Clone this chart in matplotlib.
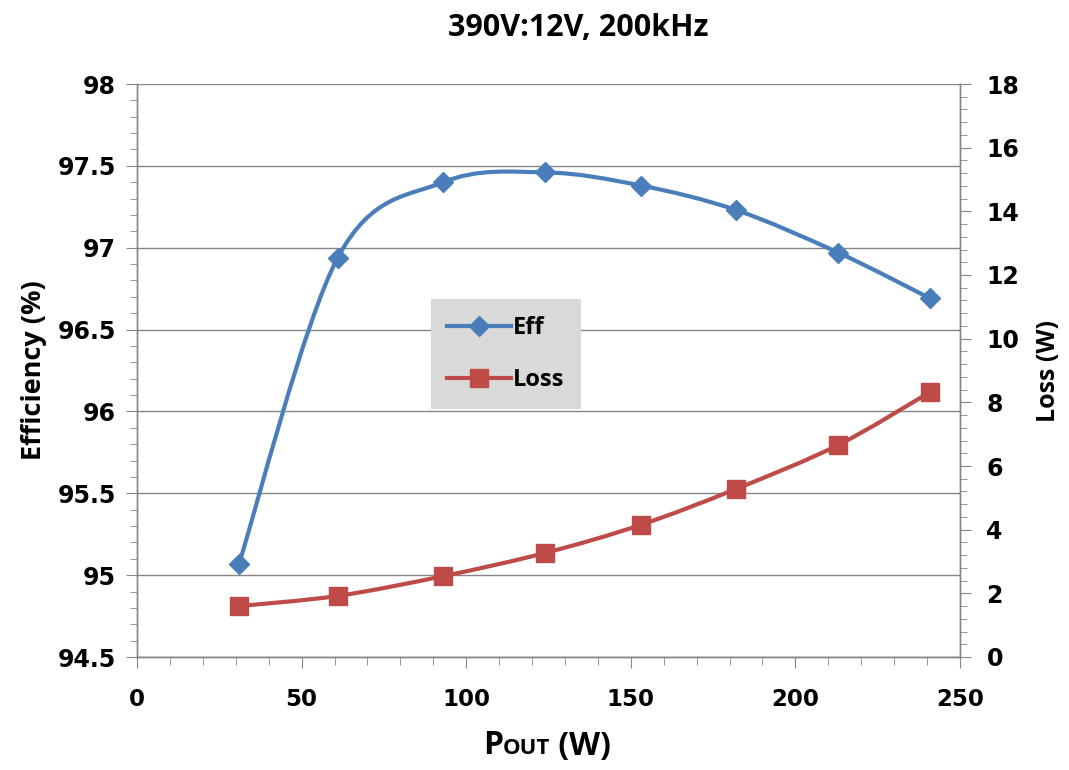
import numpy as np
import matplotlib
matplotlib.use("Agg")
import matplotlib.pyplot as plt
from matplotlib.path import Path
from matplotlib.patches import PathPatch
from matplotlib.lines import Line2D
from matplotlib.ticker import MultipleLocator
from matplotlib.offsetbox import TextArea, HPacker, AnchoredOffsetbox

# ---- data ----
pout = [31, 61, 93, 124, 153, 182, 213, 241]
eff = [95.07, 96.94, 97.40, 97.46, 97.38, 97.23, 96.97, 96.69]
loss = [1.60, 1.92, 2.54, 3.27, 4.15, 5.28, 6.66, 8.33]
title = "390V:12V, 200kHz"
series_names = ["Eff", "Loss"]

BLUE = "#4A7EBB"
RED = "#BE4B48"
GRAY = "#868686"

fig = plt.figure(figsize=(10.69, 7.70), dpi=100)
ax = fig.add_axes([137/1069, 1-657/770, 823/1069, 573/770])
ax2 = ax.twinx()

ax.set_xlim(0, 250)
ax.set_ylim(94.5, 98)
ax2.set_ylim(0, 18)


def smooth_path(xs, ys, xr, yr):
    # Excel-like smoothed line: cubic Bezier through the data points,
    # control points computed in a screen-proportional space.
    sx = 823.0 / (xr[1] - xr[0])
    sy = 573.0 / (yr[1] - yr[0])
    P = np.column_stack([(np.asarray(xs) - xr[0]) * sx, (np.asarray(ys) - yr[0]) * sy])
    n = len(P)
    verts = [P[0]]
    codes = [Path.MOVETO]
    for i in range(n - 1):
        p0 = P[i - 1] if i > 0 else P[i]
        p1 = P[i]
        p2 = P[i + 1]
        p3 = P[i + 2] if i + 2 < n else P[i + 1]
        c1 = p1 + (p2 - p0) / 6.0
        c2 = p2 - (p3 - p1) / 6.0
        verts += [c1, c2, p2]
        codes += [Path.CURVE4] * 3
    V = np.array(verts)
    V[:, 0] = V[:, 0] / sx + xr[0]
    V[:, 1] = V[:, 1] / sy + yr[0]
    return Path(V, codes)


eff_path = smooth_path(pout, eff, (0, 250), (94.5, 98))
ax.add_patch(PathPatch(eff_path, facecolor="none", edgecolor=BLUE, lw=3, zorder=3))
ax.plot(pout, eff, linestyle="none", marker="D", markersize=10, color=BLUE, zorder=4)

loss_path = smooth_path(pout, loss, (0, 250), (0, 18))
ax2.add_patch(PathPatch(loss_path, facecolor="none", edgecolor=RED, lw=3, zorder=3))
ax2.plot(pout, loss, linestyle="none", marker="s", markersize=13, color=RED, zorder=4)

# ---- axes styling ----
ax.yaxis.set_major_locator(MultipleLocator(0.5))
ax.yaxis.set_minor_locator(MultipleLocator(0.1))
ax.xaxis.set_major_locator(MultipleLocator(50))
ax.xaxis.set_minor_locator(MultipleLocator(10))
ax2.yaxis.set_major_locator(MultipleLocator(2))
ax2.yaxis.set_minor_locator(MultipleLocator(0.4))

ax.grid(axis="y", which="major", color=GRAY, lw=1)
ax.set_axisbelow(True)

for a in (ax, ax2):
    for s in a.spines.values():
        s.set_color(GRAY)
        s.set_linewidth(1)
    a.spines["top"].set_visible(False)

ax.tick_params(axis="both", which="both", direction="out", color=GRAY)
ax.tick_params(axis="y", which="major", length=8, pad=7)
ax.tick_params(axis="y", which="minor", length=5)
ax.tick_params(axis="x", which="major", length=8, pad=14)
ax.tick_params(axis="x", which="minor", length=6)
ax2.tick_params(axis="y", which="both", direction="out", color=GRAY)
ax2.tick_params(axis="y", which="major", length=8, pad=11)
ax2.tick_params(axis="y", which="minor", length=5)

ax.set_yticks(np.arange(94.5, 98.01, 0.5))
ax.set_yticklabels(["94.5", "95", "95.5", "96", "96.5", "97", "97.5", "98"])
for lab in ax.get_yticklabels() + ax2.get_yticklabels():
    lab.set_family("DejaVu Sans")
    lab.set_fontweight("bold")
    lab.set_fontsize(17)
for lab in ax.get_xticklabels():
    lab.set_family("DejaVu Sans")
    lab.set_fontweight("bold")
    lab.set_fontsize(16.5)

ax.set_ylabel("Efficiency (%)", family="Open Sans", fontweight="bold",
              fontsize=19.5, labelpad=8)
ax2.set_ylabel("Loss (W)", family="Open Sans", fontweight="bold",
               fontsize=18, labelpad=12)

fig.text(578/1069, 1-28/770, title, ha="center", va="center",
         family="Open Sans", fontweight="bold", fontsize=22)

# x label: P with small caps OUT
tp = dict(family="Open Sans", fontweight="bold", color="black")
box = HPacker(children=[TextArea("P", textprops=dict(fontsize=23, **tp)),
                        TextArea("OUT", textprops=dict(fontsize=16, **tp)),
                        TextArea(" (W)", textprops=dict(fontsize=23, **tp))],
              align="baseline", pad=0, sep=0)
anch = AnchoredOffsetbox(loc="center", child=box, frameon=False,
                         bbox_to_anchor=(547/1069, 1-746/770),
                         bbox_transform=fig.transFigure, borderpad=0, pad=0)
fig.add_artist(anch)

handles = [Line2D([], [], color=BLUE, lw=3, marker="D", markersize=10),
           Line2D([], [], color=RED, lw=3, marker="s", markersize=13)]
leg = ax2.legend(handles, series_names, loc="center",
                 bbox_to_anchor=((506-137)/823, (657-354)/573),
                 facecolor="#D9D9D9", edgecolor="none", framealpha=1,
                 fancybox=False, handlelength=2.7, handletextpad=0.1,
                 labelspacing=1.2, borderpad=0.7,
                 prop=dict(family="Open Sans", weight="bold", size=17))
leg.set_zorder(10)

fig.savefig("out.png", dpi=100)
